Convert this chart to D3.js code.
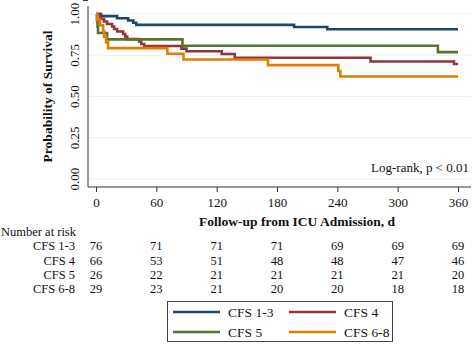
<!DOCTYPE html>
<html>
<head>
<meta charset="utf-8">
<script src="https://cdn.jsdelivr.net/npm/d3@7"></script>
<style>
  body { margin: 0; background: #fff; }
  svg text { font-family: "Liberation Serif", "DejaVu Serif", serif; fill: #111; }
</style>
</head>
<body>
<div id="chart"></div>
<script>
// data
const groups = ["CFS 1-3", "CFS 4", "CFS 5", "CFS 6-8"]
const colors = ["#1a476f", "#90353b", "#55752f", "#e37e00"]

// [day, survival]
const cfs13 = [[0,1],[5,0.987],[21,0.974],[32,0.961],[37,0.947],[40,0.934],[197,0.921],[230,0.908],[360,0.908]]
const cfs4 = [[0,1],[4,0.970],[8,0.955],[11,0.939],[16,0.924],[18,0.909],[21,0.894],[27,0.879],[29,0.864],[31,0.848],[43,0.833],[45,0.818],[48,0.806],[85,0.790],[90,0.774],[125,0.758],[138,0.735],[273,0.712],[356,0.697],[360,0.697]]
const cfs5 = [[0,1],[1,0.962],[1.5,0.923],[2,0.885],[11,0.846],[86,0.808],[340,0.769],[360,0.769]]
const cfs68 = [[0,1],[1,0.966],[4,0.931],[7,0.897],[8,0.862],[10,0.828],[12,0.793],[71,0.759],[87,0.724],[171,0.690],[241,0.655],[243,0.621],[360,0.621]]
const curves = [cfs13, cfs4, cfs5, cfs68]

const xTicks = [0, 60, 120, 180, 240, 300, 360]
const yTicks = [0, 0.25, 0.5, 0.75, 1]
const atRisk = [
	[76, 71, 71, 71, 69, 69, 69],
	[66, 53, 51, 48, 48, 47, 46],
	[26, 22, 21, 21, 21, 21, 20],
	[29, 23, 21, 20, 20, 18, 18]
]

const svgWidth = 473, svgHeight = 344

let svg = d3.select("#chart")
	.append("svg")
	.attr("width", svgWidth)
	.attr("height", svgHeight)

let x = d3.scaleLinear().domain([0, 360]).range([96, 458])
let y = d3.scaleLinear().domain([0, 1]).range([179, 14])

const axisX = 88, axisY = 187

// gridlines
svg.append("g").selectAll("line")
	.data(yTicks)
	.enter().append("line")
	.attr("x1", axisX).attr("x2", 471)
	.attr("y1", d => y(d)).attr("y2", d => y(d))
	.attr("stroke", "#eaf2f3")
	.attr("stroke-width", 1.2)

// y axis
let yAxis = d3.axisLeft(y).tickValues(yTicks).tickSize(5).tickFormat(d3.format(".2f"))
let gy = svg.append("g")
	.attr("transform", "translate(" + axisX + ",0)")
	.call(yAxis)
gy.select(".domain").attr("d", "M0,6V" + axisY).attr("stroke", "#333")
gy.selectAll(".tick line").attr("stroke", "#333")
gy.selectAll(".tick text")
	.attr("font-size", "13px")
	.attr("fill", "#777")
	.attr("text-anchor", "middle")
	.attr("transform", "rotate(-90)")
	.attr("x", function(d) { return -y(d) })
	.attr("y", -9)
	.attr("dy", "0")
	.each(function(d) { d3.select(this.parentNode).attr("transform", "translate(0,0)") })

// x axis
let xAxis = d3.axisBottom(x).tickValues(xTicks).tickSize(5).tickPadding(6)
let gx = svg.append("g")
	.attr("transform", "translate(0," + axisY + ")")
	.call(xAxis)
gx.select(".domain").attr("d", "M" + axisX + ",0H471").attr("stroke", "#333")
gx.selectAll(".tick line").attr("stroke", "#333")
gx.selectAll(".tick text").attr("font-size", "13px").attr("fill", "#111")
svg.selectAll(".tick text").style("font-family", "'Liberation Serif', serif")
svg.selectAll(".domain").attr("fill", "none")

// survival curves
let line = d3.line()
	.x(d => x(d[0]))
	.y(d => y(d[1]))
	.curve(d3.curveStepAfter)

svg.append("g").selectAll("path")
	.data(curves)
	.enter().append("path")
	.attr("fill", "none")
	.attr("stroke", (d, i) => colors[i])
	.attr("stroke-width", 2.6)
	.attr("d", line)

// annotation
svg.append("text")
	.attr("x", 469)
	.attr("y", 172)
	.attr("text-anchor", "end")
	.attr("font-size", "13px")
	.text("Log-rank, p < 0.01")

// titles
svg.append("text")
	.attr("x", 297)
	.attr("y", 226)
	.attr("text-anchor", "middle")
	.attr("font-size", "13.5px")
	.attr("font-weight", "bold")
	.text("Follow-up from ICU Admission, d")
svg.append("text")
	.attr("transform", "translate(52," + y(0.5) + ") rotate(-90)")
	.attr("text-anchor", "middle")
	.attr("font-size", "13.5px")
	.attr("font-weight", "bold")
	.text("Probability of Survival")

// number at risk table
svg.append("text")
	.attr("x", 1)
	.attr("y", 236)
	.attr("font-size", "12.5px")
	.text("Number at risk")

const rowY = [250, 265, 279, 293]
groups.forEach((g, i) => {
	svg.append("text")
		.attr("x", 75)
		.attr("y", rowY[i])
		.attr("text-anchor", "end")
		.attr("font-size", "12.5px")
		.text(g)
	svg.append("g").selectAll("text")
		.data(atRisk[i])
		.enter().append("text")
		.attr("x", (d, j) => x(xTicks[j]))
		.attr("y", rowY[i])
		.attr("text-anchor", "middle")
		.attr("font-size", "12.5px")
		.text(d => d)
})

// legend
let legend = svg.append("g")
legend.append("rect")
	.attr("x", 167.5).attr("y", 301.5)
	.attr("width", 225).attr("height", 40)
	.attr("fill", "#fff")
	.attr("stroke", "#444")
const legPos = [[173, 312], [289, 312], [173, 332], [289, 332]]
groups.forEach((g, i) => {
	let p = legPos[i]
	legend.append("line")
		.attr("x1", p[0]).attr("x2", p[0] + 47)
		.attr("y1", p[1]).attr("y2", p[1])
		.attr("stroke", colors[i])
		.attr("stroke-width", 2.6)
	legend.append("text")
		.attr("x", p[0] + 55)
		.attr("y", p[1] + 5)
		.attr("font-size", "13.5px")
		.text(g)
})
</script>
</body>
</html>
